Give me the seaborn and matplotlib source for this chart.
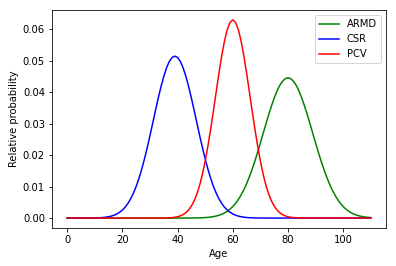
import matplotlib
matplotlib.use("Agg")
import matplotlib.pyplot as plt
import seaborn as sns
import pandas as pd

ages = list(range(0, 111))

armd = [0.0] * 38 + [
    0.0000007, 0.0000012, 0.0000020, 0.0000033, 0.0000054, 0.0000086, 0.0000135, 0.0000211,
    0.0000325, 0.0000494, 0.0000742, 0.000110, 0.000161, 0.000233, 0.000332, 0.000468,
    0.000652, 0.000897, 0.00122, 0.00164, 0.00217, 0.00283, 0.00366, 0.00467,
    0.00589, 0.00733, 0.00900, 0.01093, 0.01310, 0.01551, 0.01813, 0.02094,
    0.02387, 0.02688, 0.02990, 0.03283, 0.03561, 0.03815, 0.04036, 0.04216,
    0.04350, 0.04432, 0.04460, 0.04432, 0.04350, 0.04216, 0.04036, 0.03815,
    0.03561, 0.03283, 0.02990, 0.02688, 0.02387, 0.02094, 0.01813, 0.01551,
    0.01310, 0.01093, 0.00900, 0.00733, 0.00589, 0.00467, 0.00366, 0.00283,
    0.00217, 0.00164, 0.00122, 0.000897, 0.000652, 0.000468, 0.000332, 0.000233,
    0.000161,
]

csr = [0.0, 0.0, 0.0,
    0.0000011, 0.0000019, 0.0000034, 0.0000059, 0.0000102, 0.0000173, 0.0000287, 0.0000469,
    0.0000753, 0.000119, 0.000185, 0.000283, 0.000426, 0.000630, 0.000916, 0.00131,
    0.00184, 0.00255, 0.00347, 0.00464, 0.00611, 0.00791, 0.01007, 0.01261,
    0.01552, 0.01880, 0.02239, 0.02623, 0.03022, 0.03424, 0.03815, 0.04181,
    0.04506, 0.04776, 0.04979, 0.05105, 0.05148, 0.05105, 0.04979, 0.04776,
    0.04506, 0.04181, 0.03815, 0.03424, 0.03022, 0.02623, 0.02239, 0.01880,
    0.01552, 0.01261, 0.01007, 0.00791, 0.00611, 0.00464, 0.00347, 0.00255,
    0.00184, 0.00131, 0.000916, 0.000630, 0.000426, 0.000283, 0.000185, 0.000119,
    0.0000753, 0.0000469, 0.0000287, 0.0000173, 0.0000102, 0.0000059, 0.0000034, 0.0000019,
    0.0000011,
] + [0.0] * 35

pcv = [0.0] * 30 + [
    0.0000008, 0.0000018, 0.0000036, 0.0000071, 0.0000138, 0.0000260, 0.0000479, 0.0000861,
    0.000151, 0.000258, 0.000430, 0.000699, 0.00111, 0.00171, 0.00259, 0.00381,
    0.00547, 0.00766, 0.01046, 0.01394, 0.01811, 0.02295, 0.02836, 0.03420,
    0.04021, 0.04613, 0.05161, 0.05631, 0.05994, 0.06222, 0.06300, 0.06222,
    0.05994, 0.05631, 0.05161, 0.04613, 0.04021, 0.03420, 0.02836, 0.02295,
    0.01811, 0.01394, 0.01046, 0.00766, 0.00547, 0.00381, 0.00259, 0.00171,
    0.00111, 0.000699, 0.000430, 0.000258, 0.000151, 0.0000861, 0.0000479, 0.0000260,
    0.0000138, 0.0000071, 0.0000036, 0.0000018, 0.0000008,
] + [0.0] * 20

series_names = ["ARMD", "CSR", "PCV"]
series_colors = ["green", "blue", "red"]
series_values = [armd, csr, pcv]

fig = plt.figure(figsize=(396 / 72, 266 / 72), dpi=72)
ax = fig.add_axes([0.1313, 0.1429, 0.9747 - 0.1313, 0.9624 - 0.1429])

for name, color, vals in zip(series_names, series_colors, series_values):
    df = pd.DataFrame({"Age": ages, "p": vals})
    sns.lineplot(data=df, x="Age", y="p", color=color, label=name, ax=ax, linewidth=1.5)

ax.set_xlabel("Age")
ax.set_ylabel("Relative probability")
ax.set_yticks([0.0, 0.01, 0.02, 0.03, 0.04, 0.05, 0.06])
ax.set_xticks([0, 20, 40, 60, 80, 100])
ax.legend(loc="upper right")

fig.savefig("out.png", dpi=72)
